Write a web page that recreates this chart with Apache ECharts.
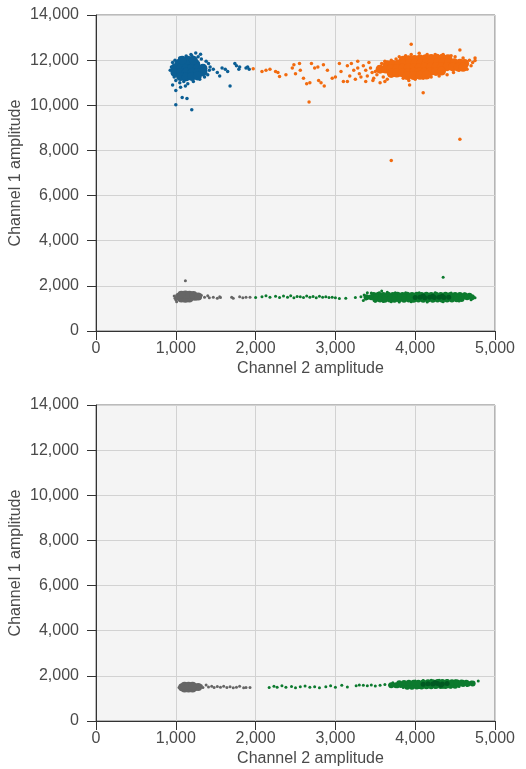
<!DOCTYPE html>
<html>
<head>
<meta charset="utf-8">
<script src="https://cdn.jsdelivr.net/npm/echarts@6/dist/echarts.min.js"></script>
<style>
html,body{margin:0;padding:0;background:#fff;}
#c{width:526px;height:769px;}
</style>
</head>
<body>
<div id="c"></div>
<script>
// ---- axis ticks ----
var xTicks = [0, 1000, 2000, 3000, 4000, 5000];
var yTicks = [0, 2000, 4000, 6000, 8000, 10000, 12000, 14000];
var xTitle = 'Channel 2 amplitude';
var yTitle = 'Channel 1 amplitude';

// ---- TOP PLOT ----
var topBlueCore = [[1040,11850],[1110,11880],[1180,11870],[1250,11830],
 [990,11650],[1060,11650],[1130,11660],[1200,11650],[1270,11640],[1340,11640],
 [990,11450],[1060,11450],[1130,11460],[1200,11450],[1270,11450],[1340,11480],
 [1060,11270],[1130,11260],[1200,11280],[1270,11300],
 [1150,12000],[1080,12000],[1220,12000]];
var topBlueDots = [[930,11550],[945,11700],[960,11400],[980,11250],[1000,11100],[1050,11000],[1100,11050],[1150,10950],[1220,11050],[1300,11150],[1360,11250],[1400,11350],[1420,11550],[1430,11700],[1410,11850],[1380,11950],[1320,12050],[1280,12150],[1200,12200],[1130,12180],[1050,12100],[990,12000],[960,11900],
 [1250,12320],[1310,12260],[1190,12250],
 [960,10900],[1000,10650],[1080,10350],[1140,10300],[1000,10020],[1200,9800],[1060,10800],[1120,10850],
 [1470,11600],[1520,11450],[1550,11300],[1580,11650],[1620,11600],[1650,11500],[1680,10850],[1740,11850],[1760,11750],[1800,11700],[1790,11600],[1880,11650],[1900,11700],[1920,11600]];
var topOrangeCore = [[3850,12000],[3920,12020],[3990,12030],[4060,12050],[4130,12060],[4200,12070],[4270,12080],[4340,12080],[4410,12060],
 [3650,11800],[3720,11810],[3790,11830],[3860,11840],[3930,11850],[4000,11860],[4070,11870],[4140,11880],[4210,11890],[4280,11900],[4350,11900],[4420,11900],[4490,11880],[4560,11860],[4620,11850],
 [3560,11600],[3630,11610],[3700,11620],[3770,11630],[3840,11640],[3910,11650],[3980,11660],[4050,11670],[4120,11680],[4190,11690],[4260,11700],[4330,11700],[4400,11710],[4470,11700],[4540,11690],[4600,11680],
 [3700,11420],[3770,11430],[3840,11440],[3910,11450],[3980,11460],[4050,11470],[4120,11480],[4190,11490],[4260,11500],[4330,11520],
 [3900,11320],[3980,11320],[4060,11330],[4140,11340]];
var topOrangeDots = [[3500,11500],[3520,11350],[3540,11700],[3580,11850],[3600,11250],[3650,11150],[3700,11300],[3620,11950],[3700,12000],[3760,12050],[3800,12150],[3850,11200],[3880,12200],[3920,11100],[3950,12250],[4000,11150],[4050,12300],[4100,11200],[4150,12250],[4200,11250],[4250,12250],[4300,11300],[4350,12250],[4400,11350],[4450,12200],[4480,11450],[4500,12150],[4550,11550],[4600,12100],[4650,11600],[4680,12000],[4700,11750],[4720,11900],[4750,12100],[4750,11980],[4560,12450],[3950,12700],[3930,10900],[4100,10550],[3620,11050],[3560,11000],
 [3700,7550],[4560,8500],[2670,10150],
 [1970,11620],[2080,11500],[2130,11550],[2180,11600],[2250,11500],[2280,11450],[2300,11270],[2380,11350],[2460,11650],[2480,11800],[2500,11400],[2550,11850],[2560,11550],[2600,11200],[2640,10950],[2680,11000],[2700,11850],[2740,11650],[2780,11700],[2790,11100],[2820,11000],[2850,11800],[2860,10850],[2900,11550],[2960,11200],[3000,11250],[3050,11850],[3070,11500],[3100,11050],[3150,11050],[3180,11300],[3200,11850],[3230,11550],[3250,11150],[3280,11650],[3300,11400],[3320,11250],[3350,11750],[3380,11550],[3400,11300],[3420,11900],[3440,11650],[3460,11450],[3470,11100],[3480,11200],[3380,11050],[3150,11750],[3280,11950]];
var topGrayCore = [[1040,1520],[1090,1520],[1140,1520],[1190,1520],[1240,1520],[1070,1440],[1120,1430],[1170,1440],[1070,1610],[1120,1620],[1170,1610],[1220,1600],[1280,1530]];
var topGrayDots = [[980,1550],[990,1450],[1000,1380],[1010,1300],[1300,1450],[1320,1580],[1360,1500],[1400,1560],[1420,1470],[1470,1500],[1520,1450],[1550,1520],[1560,1480],[1700,1500],[1720,1450],[1800,1520],[1840,1470],[1880,1500],[1930,1500],[1120,2230]];
var topGreenCore = [
 [3480,1600],[3540,1610],[3600,1600],[3660,1610],[3720,1600],[3780,1610],[3840,1600],[3900,1610],[3960,1600],[4020,1610],[4080,1600],[4140,1610],[4200,1600],[4260,1610],[4320,1600],[4380,1610],[4440,1600],[4500,1600],[4560,1590],[4620,1580],[4680,1560],
 [3390,1500],[3450,1500],[3510,1500],[3570,1500],[3630,1500],[3690,1500],[3750,1500],[3810,1500],[3870,1500],[3930,1500],[3990,1500],[4050,1500],[4110,1500],[4170,1500],[4230,1500],[4290,1500],[4350,1500],[4410,1500],[4470,1500],[4530,1500],[4590,1500],[4650,1500],[4710,1500],
 [3500,1400],[3560,1400],[3620,1390],[3680,1400],[3740,1390],[3800,1400],[3860,1390],[3920,1400],[3980,1390],[4040,1400],[4100,1390],[4160,1400],[4220,1390],[4280,1400],[4340,1390],[4400,1400],[4460,1400],[4520,1410],[4580,1420]];
var topGreenDark = [[4000,1480],[4060,1500],[4120,1470],[4180,1500],[4240,1480],[4300,1500],[4360,1480],[4420,1500],[4100,1550],[4220,1540],[4340,1540]];
var topGreenDots = [[2000,1480],[2080,1520],[2130,1560],[2180,1500],[2250,1540],[2300,1480],[2350,1550],[2400,1500],[2440,1560],[2480,1470],[2520,1530],[2560,1520],[2600,1480],[2640,1550],[2680,1500],[2720,1530],[2760,1470],[2800,1540],[2840,1500],[2880,1520],[2920,1480],[2960,1500],[3000,1470],[3050,1440],[3130,1450],[3250,1480],[3320,1520],[3360,1600],[3380,1420],[4350,2380],
 [3350,1350],[3400,1700],[3450,1680],[3500,1320],[3550,1700],[3600,1310],[3650,1720],[3700,1300],[3750,1700],[3800,1290],[3880,1690],[3950,1300],[4050,1700],[4150,1290],[4250,1700],[4350,1300],[4450,1680],[4550,1330],[4620,1640],[4700,1380],[4730,1500],[4750,1470],[3580,1770]];

// ---- BOTTOM PLOT ----
var botGrayCore = [[1080,1500],[1130,1500],[1180,1500],[1230,1500],[1280,1510],[1110,1440],[1160,1440],[1210,1440],[1110,1560],[1160,1560],[1210,1560]];
var botGrayDots = [[1040,1480],[1320,1560],[1340,1480],[1380,1600],[1410,1510],[1450,1540],[1480,1480],[1520,1530],[1560,1500],[1600,1540],[1640,1480],[1680,1520],[1720,1470],[1760,1500],[1800,1540],[1850,1470],[1880,1480],[1930,1480]];
var botGreenCore = [
 [3700,1580],[3760,1580],[3820,1590],[3880,1590],[3940,1600],[4000,1600],[4060,1610],[4120,1610],[4180,1620],[4240,1620],[4300,1630],[4360,1630],[4420,1630],[4480,1630],[4540,1640],[4600,1640],[4660,1650],[4720,1660],
 [3900,1520],[3960,1520],[4020,1530],[4080,1530],[4140,1540],[4200,1540],[4260,1550],[4320,1550],[4380,1550],[4440,1560],[4500,1560],
 [3800,1670],[3860,1680],[3920,1690],[3980,1700],[4040,1700],[4100,1710],[4160,1720],[4220,1720],[4280,1730],[4340,1730],[4400,1730],[4460,1720],[4520,1720],[4580,1710],[4640,1700]];
var botGreenDark = [[4100,1630],[4160,1650],[4220,1640],[4280,1660],[4340,1640],[4400,1660],[4250,1700],[4320,1580]];
var botGreenDots = [[2170,1480],[2230,1540],[2270,1500],[2330,1560],[2380,1490],[2450,1530],[2500,1470],[2560,1520],[2620,1550],[2680,1490],[2740,1520],[2800,1470],[2880,1520],[2940,1560],[3000,1490],[3080,1580],[3150,1510],[3260,1560],[3300,1600],[3350,1580],[3400,1560],[3450,1600],[3500,1550],[3560,1580],[3620,1620],[3680,1590],[4790,1770],[3720,1700],[3780,1520],
 [3700,1620],[3850,1480],[3950,1470],[4050,1480],[4150,1480],[4250,1490],[4350,1500],[4450,1510],[4550,1530],[4650,1570],[4000,1770],[4100,1790],[4200,1800],[4300,1800],[4400,1790],[4500,1780],[4600,1760],[4700,1730]];

var BLUE = '#0b5e94', ORANGE = '#f26b0f', GRAY = '#666666', GREEN = '#0c7a2e', GREEN_DK = '#005a22';
var FONT = "'Liberation Sans', Arial, sans-serif";
var TXT = '#4a4a4a';

function xAxis(gi) {
  return {
    type: 'value', gridIndex: gi, min: xTicks[0], max: xTicks[xTicks.length-1], interval: 1000,
    name: xTitle, nameLocation: 'middle', nameGap: 30, nameMoveOverlap: false,
    nameTextStyle: { fontSize: 16, color: TXT, fontFamily: FONT, padding: [0,0,0,30] },
    axisLine: { show: true, lineStyle: { color: '#333', width: 1 } },
    axisTick: { show: true, length: 9, inside: false, lineStyle: { color: '#333' } },
    axisLabel: { fontSize: 16, color: TXT, fontFamily: FONT, margin: 10,
      formatter: function (v) { return v.toLocaleString('en-US'); } },
    splitLine: { show: true, lineStyle: { color: '#d2d2d2', width: 1 } }
  };
}
function yAxis(gi) {
  return {
    type: 'value', gridIndex: gi, min: yTicks[0], max: yTicks[yTicks.length-1], interval: 2000,
    name: yTitle, nameLocation: 'middle', nameGap: 72, nameRotate: 90, nameMoveOverlap: false,
    nameTextStyle: { fontSize: 16, color: TXT, fontFamily: FONT },
    axisLine: { show: true, lineStyle: { color: '#333', width: 1 } },
    axisTick: { show: true, length: 9, inside: false, lineStyle: { color: '#333' } },
    axisLabel: { fontSize: 16, color: TXT, fontFamily: FONT, margin: 17,
      formatter: function (v) { return v.toLocaleString('en-US'); } },
    splitLine: { show: true, lineStyle: { color: '#d2d2d2', width: 1 } }
  };
}
function sc(data, gi, color, size) {
  return { type: 'scatter', xAxisIndex: gi, yAxisIndex: gi, data: data, symbolSize: size,
    itemStyle: { color: color, opacity: 1 }, silent: true, animation: false };
}

var chart = echarts.init(document.getElementById('c'), null, { renderer: 'canvas' });
chart.setOption({
  animation: false,
  backgroundColor: '#ffffff',
  grid: [
    { left: 96, top: 15, width: 399, height: 316, show: true, backgroundColor: '#f4f4f4', borderColor: '#777', borderWidth: 1, containLabel: false, outerBoundsMode: 'none' },
    { left: 96, top: 405, width: 399, height: 316, show: true, backgroundColor: '#f4f4f4', borderColor: '#777', borderWidth: 1, containLabel: false, outerBoundsMode: 'none' }
  ],
  xAxis: [xAxis(0), xAxis(1)],
  yAxis: [yAxis(0), yAxis(1)],
  series: [
    sc(topBlueDots, 0, BLUE, 3.5), sc(topBlueCore, 0, BLUE, 9),
    sc(topOrangeDots, 0, ORANGE, 3.5), sc(topOrangeCore, 0, ORANGE, 9),
    sc(topGrayDots, 0, GRAY, 3), sc(topGrayCore, 0, GRAY, 8),
    sc(topGreenDots, 0, GREEN, 3), sc(topGreenCore, 0, GREEN, 6), sc(topGreenDark, 0, GREEN_DK, 5),
    sc(botGrayDots, 1, GRAY, 3), sc(botGrayCore, 1, GRAY, 8),
    sc(botGreenDots, 1, GREEN, 3), sc(botGreenCore, 1, GREEN, 6), sc(botGreenDark, 1, GREEN_DK, 5)
  ]
});
</script>
</body>
</html>
